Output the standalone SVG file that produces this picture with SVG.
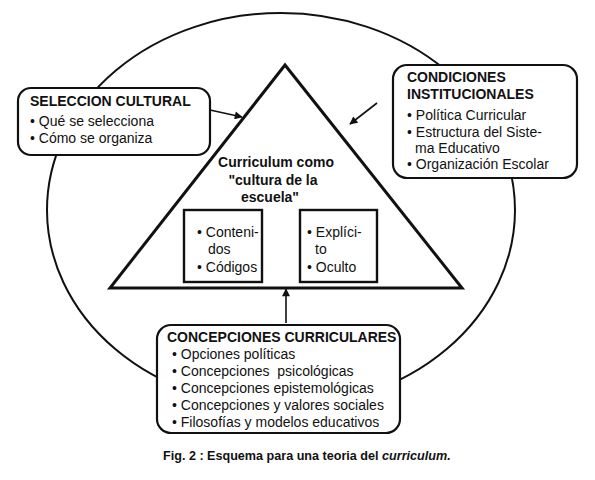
<svg xmlns="http://www.w3.org/2000/svg" width="595" height="480" viewBox="0 0 595 480">
<style>
.t{font-family:"Liberation Sans",Arial,sans-serif;font-size:14px;fill:#111}
.b{font-weight:bold}
.box{fill:#fff;stroke:#111;stroke-width:2.2}
.ib{fill:none;stroke:#111;stroke-width:2.4}
.con{stroke:#111;stroke-width:1.6;fill:none}
</style>
<defs>
<marker id="ah" viewBox="0 0 10 10" refX="9" refY="5" markerWidth="10" markerHeight="8" markerUnits="userSpaceOnUse" orient="auto">
<path d="M0,0 L10,5 L0,10 z" fill="#111"/>
</marker>
</defs>
<rect width="595" height="480" fill="#fff"/>
<g id="outer-circle">
<ellipse cx="281" cy="210" rx="234" ry="197" fill="none" stroke="#111" stroke-width="2"/>
</g>
<g id="triangle">
<polygon points="285,65 110,288 462,288" fill="#fff" stroke="#111" stroke-width="3" stroke-linejoin="miter"/>
<text class="t b" text-anchor="middle"><tspan x="276" y="167">Curriculum como</tspan><tspan x="273" y="185">"cultura de la</tspan><tspan x="270" y="202">escuela"</tspan></text>
</g>
<g id="box-contenidos">
<rect class="ib" x="184" y="210" width="78" height="72"/>
<text class="t"><tspan x="197" y="237">• Conteni-</tspan><tspan x="208" y="254">dos</tspan><tspan x="197" y="272">• Códigos</tspan></text>
</g>
<g id="box-explicito">
<rect class="ib" x="300" y="210" width="77" height="72"/>
<text class="t"><tspan x="307" y="237">• Explíci-</tspan><tspan x="315" y="254">to</tspan><tspan x="307" y="272">• Oculto</tspan></text>
</g>
<g id="seleccion-cultural">
<rect class="box" x="18" y="88" width="192" height="67" rx="13"/>
<text class="t b" x="30" y="106">SELECCION CULTURAL</text>
<text class="t"><tspan x="30" y="126">• Qué se selecciona</tspan><tspan x="30" y="143">• Cómo se organiza</tspan></text>
</g>
<g id="condiciones-institucionales">
<rect class="box" x="393" y="65" width="184" height="113" rx="14"/>
<text class="t b"><tspan x="407" y="82">CONDICIONES</tspan><tspan x="407" y="99">INSTITUCIONALES</tspan></text>
<text class="t"><tspan x="407" y="120">• Política Curricular</tspan><tspan x="407" y="137">• Estructura del Siste-</tspan><tspan x="415" y="153">ma Educativo</tspan><tspan x="407" y="169">• Organización Escolar</tspan></text>
</g>
<g id="concepciones-curriculares">
<rect class="box" x="157" y="325" width="243" height="108" rx="14"/>
<text class="t b" x="167" y="342">CONCEPCIONES CURRICULARES</text>
<text class="t"><tspan x="172" y="359">• Opciones políticas</tspan><tspan x="172" y="376">• Concepciones&#160; psicológicas</tspan><tspan x="172" y="393">• Concepciones epistemológicas</tspan><tspan x="172" y="410">• Concepciones y valores sociales</tspan><tspan x="172" y="427">• Filosofías y modelos educativos</tspan></text>
</g>
<g id="connectors">
<line class="con" x1="210" y1="110" x2="242" y2="117" marker-end="url(#ah)"/>
<line class="con" x1="377" y1="103" x2="350" y2="124" marker-end="url(#ah)"/>
<line class="con" x1="286" y1="323" x2="286" y2="289" marker-end="url(#ah)"/>
</g>
<text class="t b" x="163" y="460" style="font-size:12.6px">Fig. 2 : Esquema para una teoria del <tspan font-style="italic">curriculum.</tspan></text>
</svg>
